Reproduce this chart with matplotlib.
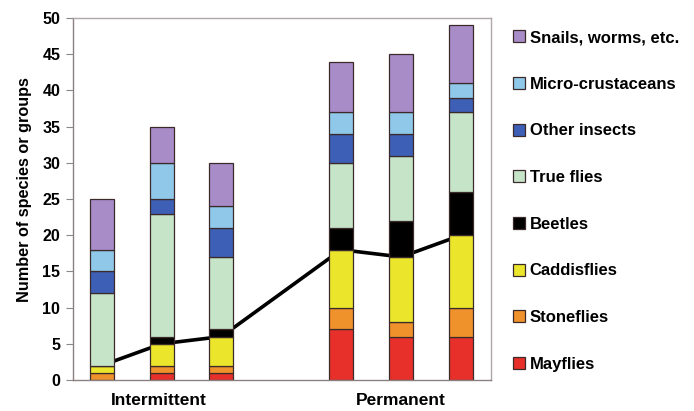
import matplotlib
matplotlib.use("Agg")
import matplotlib.pyplot as plt
from matplotlib.patches import Patch

plt.rcParams['font.family'] = ['Liberation Sans', 'DejaVu Sans']
plt.rcParams['font.weight'] = 'bold'

sites = ["I1", "I2", "I3", "P1", "P2", "P3"]
x_pos = [0, 1, 2, 4, 5, 6]
group_labels = ["Intermittent", "Permanent"]
group_centers = [0.95, 5]

mayflies = [0, 1, 1, 7, 6, 6]
stoneflies = [1, 1, 1, 3, 2, 4]
caddisflies = [1, 3, 4, 8, 9, 10]
beetles = [0, 1, 1, 3, 5, 6]
true_flies = [10, 17, 10, 9, 9, 11]
other_insects = [3, 2, 4, 4, 3, 2]
micro_crustaceans = [3, 5, 3, 3, 3, 2]
snails = [7, 5, 6, 7, 8, 8]

series = [
    ("Mayflies", mayflies, "#e8302a"),
    ("Stoneflies", stoneflies, "#f0922c"),
    ("Caddisflies", caddisflies, "#ebe62c"),
    ("Beetles", beetles, "#000000"),
    ("True flies", true_flies, "#c6e4c8"),
    ("Other insects", other_insects, "#3d5fb6"),
    ("Micro-crustaceans", micro_crustaceans, "#90c8ea"),
    ("Snails, worms, etc.", snails, "#a88cc8"),
]

# EPT richness line (mayflies + stoneflies + caddisflies)
ept = [m + s + c for m, s, c in zip(mayflies, stoneflies, caddisflies)]

fig = plt.figure(figsize=(6.94, 4.11), dpi=100)
ax = fig.add_axes([0.105, 0.0754, 0.6025, 0.8806])

ax.plot(x_pos, ept, color="black", lw=2.6, zorder=1, solid_capstyle="butt")

bottom = [0] * len(x_pos)
handles = []
for name, vals, col in series:
    ax.bar(x_pos, vals, width=0.4, bottom=bottom, color=col,
           edgecolor="#3a2a2a", linewidth=0.9, zorder=2)
    bottom = [b + v for b, v in zip(bottom, vals)]
    handles.append(Patch(facecolor=col, edgecolor="#3a2a2a", linewidth=0.9, label=name))

ax.set_xlim(-0.48, 6.5)
ax.set_ylim(0, 50)
ax.set_yticks(range(0, 51, 5))
ax.set_xticks(group_centers)
ax.set_xticklabels(group_labels, fontsize=12.5, fontweight="bold")
ax.tick_params(axis="x", length=0, pad=9)
ax.tick_params(axis="y", length=5, color="#888888", labelsize=11.5, pad=4)
for lbl in ax.get_yticklabels():
    lbl.set_fontweight("bold")
for sp in ax.spines.values():
    sp.set_color("#b0a8a8")
    sp.set_linewidth(1.0)
ax.spines["left"].set_color("#8a8080")
ax.spines["bottom"].set_color("#8a8080")
ax.set_ylabel("Number of species or groups", fontsize=11.7, fontweight="bold")
ax.yaxis.set_label_coords(-0.098, 0.525)

fig.legend(handles=handles[::-1], loc="upper left", bbox_to_anchor=(0.729, 0.943),
           frameon=False, labelspacing=1.9, handlelength=0.72,
           handleheight=0.72, handletextpad=0.3, borderaxespad=0,
           prop={"weight": "bold", "size": 12})

fig.savefig("out.png", dpi=100)
